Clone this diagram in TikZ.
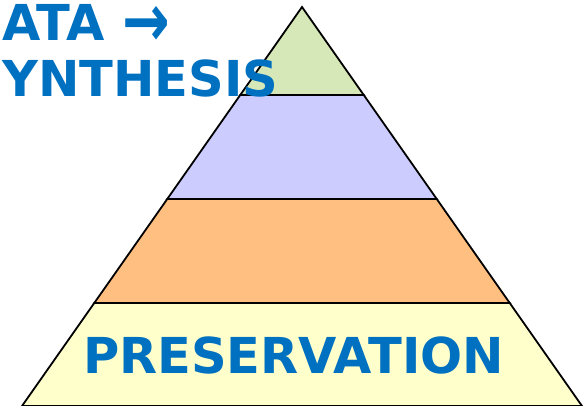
\documentclass[tikz,border=0pt]{standalone}
\usepackage{fontspec}
\newfontfamily\pyrfont{DejaVu Sans}
\usetikzlibrary{calc}

\definecolor{pyrblue}{HTML}{0070C0}
\definecolor{topfill}{HTML}{D7E8B8}
\definecolor{secondfill}{HTML}{CCCCFF}
\definecolor{thirdfill}{HTML}{FFBF80}
\definecolor{basefill}{HTML}{FFFFCC}

\begin{document}
\begin{tikzpicture}[
        x=1pt, y=-1pt,
        layer/.style={
            draw=black,
            line width=1.8pt,
            line join=miter
        },
        caption/.style={
            text=pyrblue,
            inner sep=0pt,
            anchor=base west,
            font=\pyrfont\bfseries\fontsize{49.5}{49.5}\selectfont
        }
    ]

    \useasboundingbox (0,0) rectangle (588,406);

    % corners of the pyramid
    \coordinate (apex) at (302,7);
    \coordinate (bl) at (22,406);
    \coordinate (br) at (582,406);

    % where the layers meet the sides
    \foreach \name/\t in {a/0.2206,b/0.4812,c/0.7419}{
        \coordinate (l\name) at ($(apex)!\t!(bl)$);
        \coordinate (r\name) at ($(apex)!\t!(br)$);
    }

    \filldraw[layer, fill=topfill] (apex) -- (ra) -- (la) -- cycle;
    \filldraw[layer, fill=secondfill] (la) -- (ra) -- (rb) -- (lb) -- cycle;
    \filldraw[layer, fill=thirdfill] (lb) -- (rb) -- (rc) -- (lc) -- cycle;
    \filldraw[layer, fill=basefill] (lc) -- (rc) -- (br) -- (bl) -- cycle;

    \node[caption] (data) at (2,41) {ATA \smash{\raisebox{-6pt}{\scalebox{1.15}[1.5]{→}}}};
    \node[caption] (synthesis) at (2,97) {YNTHESIS};
    \node[caption, anchor=base] (preservation) at (293.5,373) {PRESERVATION};

\end{tikzpicture}
\end{document}
